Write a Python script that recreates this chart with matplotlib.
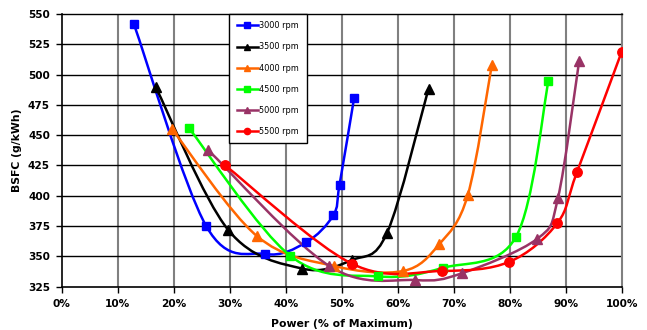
import matplotlib
matplotlib.use("Agg")
import matplotlib.pyplot as plt
from matplotlib.path import Path
from matplotlib.patches import PathPatch
from matplotlib.lines import Line2D
import numpy as np

plt.rcParams['font.family'] = ['DejaVu Sans']

x_ticks = [0, 10, 20, 30, 40, 50, 60, 70, 80, 90, 100]
x_tick_labels = ["0%", "10%", "20%", "30%", "40%", "50%", "60%", "70%", "80%", "90%", "100%"]
y_ticks = [325, 350, 375, 400, 425, 450, 475, 500, 525, 550]

series_names = ["3000 rpm", "3500 rpm", "4000 rpm", "4500 rpm", "5000 rpm", "5500 rpm"]

p3000 = [12.9, 25.8, 36.3, 43.6, 48.5, 49.6, 52.2]
b3000 = [541.5, 375, 352, 361.5, 384, 409, 480.5]

p3500 = [16.8, 29.7, 42.9, 51.8, 58.1, 65.5]
b3500 = [489.5, 372, 340, 347, 369.5, 488.5]

p4000 = [19.7, 34.8, 48.7, 61.0, 67.4, 72.5, 76.8]
b4000 = [455, 367, 342, 338, 360, 400.5, 508]

p4500 = [22.7, 40.8, 56.5, 68.0, 81.1, 86.9]
b4500 = [456, 350.5, 333.5, 340.5, 366, 494.5]

p5000 = [26.2, 47.8, 63.1, 71.4, 84.9, 88.6, 92.4]
b5000 = [437.5, 342, 330.5, 336, 364.5, 398, 511.5]

p5500 = [29.2, 51.8, 67.9, 79.9, 88.5, 92.0, 100.0]
b5500 = [425, 344, 338, 345.5, 377.5, 419.5, 519]

powers = [p3000, p3500, p4000, p4500, p5000, p5500]
bsfcs = [b3000, b3500, b4000, b4500, b5000, b5500]
colors = ["#0000FF", "#000000", "#FF6600", "#00FF00", "#993366", "#FF0000"]
markers = ["s", "^", "^", "s", "^", "o"]


def smooth_path(xs, ys):
    pts = np.column_stack([xs, ys]).astype(float)
    n = len(pts)
    verts = [pts[0]]
    codes = [Path.MOVETO]
    for i in range(n - 1):
        p0 = pts[i - 1] if i > 0 else pts[i]
        p1 = pts[i]
        p2 = pts[i + 1]
        p3 = pts[i + 2] if i + 2 < n else pts[i + 1]
        c1 = p1 + (p2 - p0) / 6.0
        c2 = p2 - (p3 - p1) / 6.0
        verts += [c1, c2, p2]
        codes += [Path.CURVE4] * 3
    return Path(verts, codes)


fig = plt.figure(figsize=(6.47, 3.30), dpi=100)
ax = fig.add_axes([0.0954, 0.1312, 0.8656, 0.8264])

ax.set_xlim(0, 100)
ax.set_ylim(325, 550)

for xv in x_ticks[1:-1]:
    ax.axvline(xv, color="#808080", lw=1.5, zorder=1)
for yv in y_ticks[1:-1]:
    ax.axhline(yv, color="#000000", lw=1.0, zorder=1)

handles = []
for xs, ys, c, m, name in zip(powers, bsfcs, colors, markers, series_names):
    patch = PathPatch(smooth_path(xs, ys), facecolor="none", edgecolor=c, lw=1.8,
                      transform=ax.transData, zorder=3)
    ax.add_patch(patch)
    ms = 6.3 if m == "s" else 6.8
    ax.plot(xs, ys, linestyle="none", marker=m, color=c, markersize=ms, zorder=4)
    handles.append(Line2D([0], [0], color=c, lw=1.8, marker=m, markersize=4.5, label=name))

ax.set_xticks(x_ticks)
ax.set_xticklabels(x_tick_labels)
ax.set_yticks(y_ticks)
for lbl in ax.get_xticklabels() + ax.get_yticklabels():
    lbl.set_fontweight("bold")
    lbl.set_fontsize(7.6)
ax.tick_params(axis="y", direction="out", length=4, width=1, pad=4.5, color="black")
ax.tick_params(axis="x", direction="out", length=4, width=1, pad=5, color="black")

for side in ["left", "bottom"]:
    ax.spines[side].set_color("black")
    ax.spines[side].set_linewidth(1.2)
ax.spines["top"].set_color("#000000")
ax.spines["top"].set_linewidth(1.0)
ax.spines["right"].set_color("#808080")
ax.spines["right"].set_linewidth(1.5)

ax.set_ylabel("BSFC (g/kWh)", fontweight="bold", fontsize=7.8, labelpad=4)
ax.set_xlabel("Power (% of Maximum)", fontweight="bold", fontsize=7.8, labelpad=7)

leg = ax.legend(handles=handles, loc="upper left", bbox_to_anchor=(0.299, 1.0),
                fontsize=5.9, frameon=True, fancybox=False, framealpha=1,
                edgecolor="black", labelspacing=1.48, handlelength=2.6,
                handletextpad=0.2, borderpad=0.9, borderaxespad=0)
leg.get_frame().set_linewidth(1.0)
leg.set_zorder(5)

fig.savefig("out.png", dpi=100)
